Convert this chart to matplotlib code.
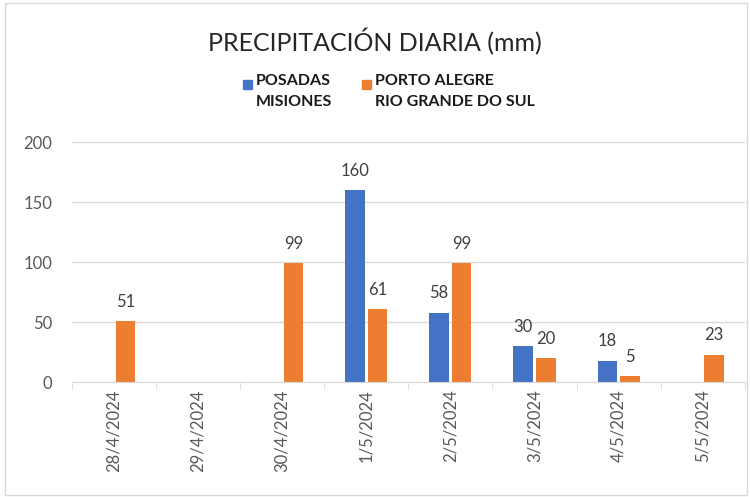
import matplotlib.pyplot as plt
import numpy as np
from matplotlib.patches import Rectangle

fechas = ['28/4/2024', '29/4/2024', '30/4/2024', '1/5/2024',
          '2/5/2024', '3/5/2024', '4/5/2024', '5/5/2024']
posadas = [0, 0, 0, 160, 58, 30, 18, 0]
porto_alegre = [51, 0, 99, 61, 99, 20, 5, 23]
series = ['POSADAS\nMISIONES', 'PORTO ALEGRE\nRIO GRANDE DO SUL']

azul = '#4472c4'
naranja = '#ed7d31'
gris = '#595959'

plt.rcParams['font.family'] = ['Lato', 'DejaVu Sans']

W, H = 750, 497
fig = plt.figure(figsize=(7.5, 4.97), dpi=100)
ax = fig.add_axes([0.096, 0.231, 0.897, 0.483])

x = np.arange(len(fechas))
ancho = 0.23
b1 = ax.bar(x - 0.135, posadas, ancho, color=azul)
b2 = ax.bar(x + 0.135, porto_alegre, ancho, color=naranja)

for barras, valores in ((b1, posadas), (b2, porto_alegre)):
    for b, v in zip(barras, valores):
        if v > 0:
            ax.annotate(str(v), (b.get_x() + b.get_width() / 2, v),
                        xytext=(0, 8), textcoords='offset points',
                        ha='center', va='bottom', fontsize=12, color='#404040')

ax.set_xlim(-0.5, len(fechas) - 0.5)
ax.set_ylim(0, 200)
ax.set_yticks([0, 50, 100, 150, 200])
ax.yaxis.grid(True, color='#d9d9d9', linewidth=1)
ax.set_axisbelow(True)
for s in ['top', 'right', 'left']:
    ax.spines[s].set_visible(False)
ax.spines['bottom'].set_color('#d9d9d9')
ax.tick_params(axis='y', length=0, labelsize=12, labelcolor=gris, pad=14)

ax.set_xticks(x)
ax.set_xticklabels(fechas, rotation=90, fontsize=12, color=gris)
ax.tick_params(axis='x', length=0, pad=5)
ax.set_xticks(np.arange(-0.5, len(fechas)), minor=True)
ax.tick_params(axis='x', which='minor', length=5, color='#d9d9d9')

fig.text(0.5, 1 - 42 / H, 'PRECIPITACIÓN DIARIA (mm)', ha='center', va='center',
         fontsize=18, color='#262626')

# leyenda manual: cuadro alineado con la primera linea del texto
for xc, color, etiqueta in ((243, azul, series[0]), (362, naranja, series[1])):
    fig.patches.append(Rectangle((xc / W, 1 - 89 / H), 9 / W, 9 / H,
                                 transform=fig.transFigure, color=color))
    fig.text((xc + 13) / W, 1 - 74 / H, etiqueta, ha='left', va='top',
             fontsize=11.5, fontweight='bold', color='#1a1a1a', linespacing=1.6)

fig.patches.append(Rectangle((0.006, 0.004), 0.99, 0.99, transform=fig.transFigure,
                             fill=False, edgecolor='#d9d9d9', linewidth=1))

fig.savefig('out.png', dpi=100)
